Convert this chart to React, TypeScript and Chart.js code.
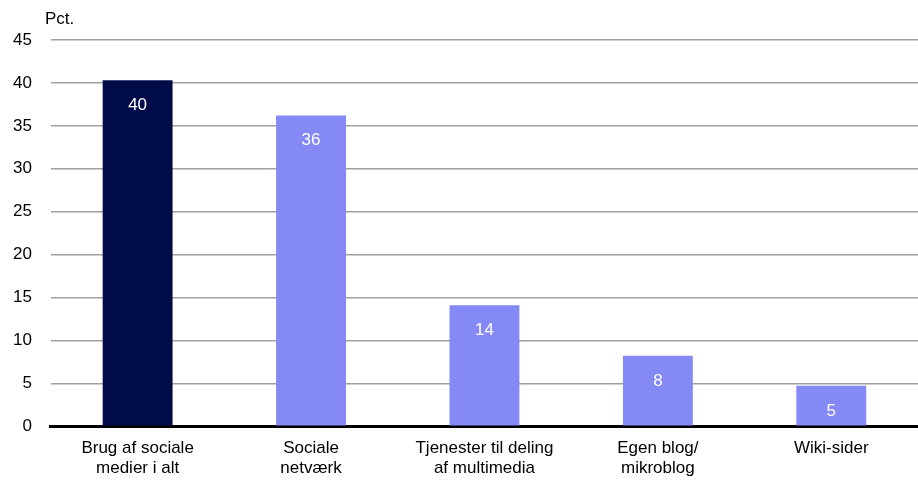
import React, { useEffect, useRef } from "react";
import { Chart, registerables } from "chart.js";

Chart.register(...registerables);

const categories: string[][] = [
  ["Brug af sociale", "medier i alt"],
  ["Sociale", "netværk"],
  ["Tjenester til deling", "af multimedia"],
  ["Egen blog/", "mikroblog"],
  ["Wiki-sider"],
];
const values: number[] = [40.3, 36.2, 14.1, 8.2, 4.7];
const valueLabels: string[] = ["40", "36", "14", "8", "5"];
const barColors: string[] = ["#000b4a", "#8489f5", "#8489f5", "#8489f5", "#8489f5"];
const yTicks: number[] = [0, 5, 10, 15, 20, 25, 30, 35, 40, 45];
const unitLabel = "Pct.";

const FONT = "'Liberation Sans', Arial, sans-serif";

const labelPlugin = {
  id: "customLabels",
  afterDatasetsDraw(chart: any) {
    const ctx = chart.ctx;
    const meta = chart.getDatasetMeta(0);
    ctx.save();
    ctx.font = `17px ${FONT}`;
    ctx.fillStyle = "#ffffff";
    ctx.textAlign = "center";
    ctx.textBaseline = "middle";
    meta.data.forEach((bar: any, i: number) => {
      ctx.fillText(valueLabels[i], bar.x, bar.y + 25);
    });
    ctx.fillStyle = "#000000";
    ctx.textAlign = "left";
    ctx.fillText(unitLabel, 45, 19);
    ctx.restore();
  },
};

export default function App() {
  const ref = useRef<HTMLCanvasElement | null>(null);
  useEffect(() => {
    if (!ref.current) return;
    const chart = new Chart(ref.current, {
      type: "bar",
      data: {
        labels: categories,
        datasets: [
          {
            data: values,
            backgroundColor: barColors,
            barPercentage: 0.403,
            categoryPercentage: 1,
          },
        ],
      },
      options: {
        animation: false,
        responsive: false,
        maintainAspectRatio: false,
        layout: { padding: { top: 40, right: 0, left: -6, bottom: -3 } },
        plugins: { legend: { display: false }, tooltip: { enabled: false } },
        scales: {
          x: {
            grid: { display: false, drawTicks: false },
            border: { display: true, color: "#000000", width: 3 },
            ticks: {
              color: "#000000",
              font: { family: FONT, size: 17, lineHeight: 1.2 },
              padding: 12,
              maxRotation: 0,
              autoSkip: false,
            },
          },
          y: {
            min: 0,
            max: 45,
            afterBuildTicks: (axis: any) => {
              axis.ticks = yTicks.map((v) => ({ value: v }));
            },
            grid: { color: "#a0a0a0", lineWidth: 1.5, drawTicks: false },
            border: { display: false },
            ticks: {
              color: "#000000",
              font: { family: FONT, size: 17 },
              padding: 19,
            },
          },
        },
      },
      plugins: [labelPlugin],
    });
    return () => chart.destroy();
  }, []);
  return (
    <div style={{ position: "fixed", left: 0, top: 0, width: 918, height: 488, background: "#fff" }}>
      <canvas ref={ref} width={918} height={488} style={{ width: 918, height: 488 }} />
    </div>
  );
}
